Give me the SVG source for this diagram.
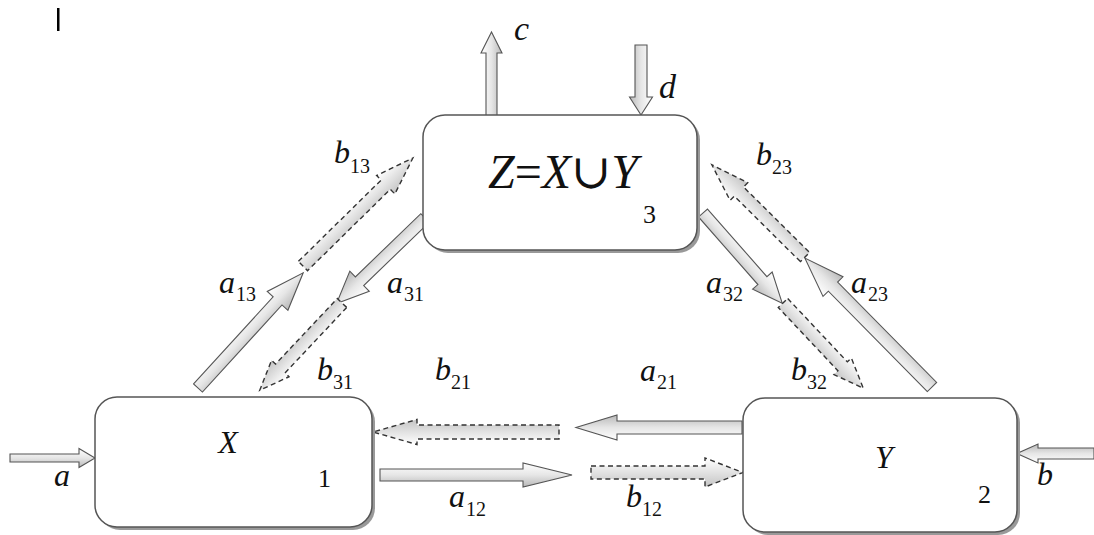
<svg xmlns="http://www.w3.org/2000/svg" width="1094" height="535" viewBox="0 0 1094 535">
<style>
.solid{fill:url(#gs);stroke:#555;stroke-width:1.1;stroke-linejoin:miter}
.dash{fill:url(#gd);stroke:#333;stroke-width:1.4;stroke-dasharray:5 3.5}
.box{fill:#fff;stroke:#555;stroke-width:1.5}
.shadow{fill:#999}
text{font-family:'Liberation Serif','Times New Roman','DejaVu Serif',serif;fill:#111}
.it{font-style:italic;font-size:32px}
.sub{font-style:normal;font-size:20px}
.num{font-size:26px}
.up{font-style:normal}
</style>
<defs>
<linearGradient id="gs" x1="0" y1="0" x2="0" y2="1">
<stop offset="0" stop-color="#ffffff"/><stop offset="0.5" stop-color="#e6e6e6"/><stop offset="1" stop-color="#b8b8b8"/>
</linearGradient>
<linearGradient id="gd" x1="0" y1="0" x2="0" y2="1">
<stop offset="0" stop-color="#ffffff"/><stop offset="0.5" stop-color="#e2e2e2"/><stop offset="1" stop-color="#c4c4c4"/>
</linearGradient>
</defs>
<rect x="57" y="8" width="2.5" height="23" fill="#000"/>
<g id="connectors">
<polygon class="solid" transform="translate(10,458)" points="0,-4 69,-4 69,-9.5 85,0 69,9.5 69,4 0,4"/>
<polygon class="solid" transform="translate(1094,453.5) rotate(180)" points="0,-5.5 56,-5.5 56,-9.5 77,0 56,9.5 56,5.5 0,5.5"/>
<polygon class="solid" transform="translate(491.5,116) rotate(-90)" points="0,-5.5 63,-5.5 63,-10.5 84,0 63,10.5 63,5.5 0,5.5"/>
<polygon class="solid" transform="translate(641,45) rotate(90)" points="0,-6 52,-6 52,-11.5 70,0 52,11.5 52,6 0,6"/>
<polygon class="solid" transform="translate(742,427.5) rotate(180)" points="0,-6.5 125,-6.5 125,-12.5 166,0 125,12.5 125,6.5 0,6.5"/>
<polygon class="solid" transform="translate(380,475)" points="0,-6 143,-6 143,-12 192,0 143,12 143,6 0,6"/>
<polygon class="dash" transform="translate(559,432) rotate(180)" points="0,-7 142,-7 142,-12.5 186,0 142,12.5 142,7 0,7"/>
<polygon class="dash" transform="translate(591,472.5)" points="0,-6.5 114,-6.5 114,-14.5 152,0 114,14.5 114,6.5 0,6.5"/>
<polygon class="solid" transform="translate(198,388) rotate(-47.6)" points="0,-6 118,-6 118,-14 156,0 118,14 118,6 0,6"/>
<polygon class="dash" transform="translate(303,266) rotate(-44.5)" points="0,-6.5 116,-6.5 116,-13 154,0 116,13 116,6.5 0,6.5"/>
<polygon class="solid" transform="translate(425,218) rotate(136)" points="0,-6 91,-6 91,-14 123,0 91,14 91,6 0,6"/>
<polygon class="dash" transform="translate(342,303) rotate(133.3)" points="0,-6.5 90,-6.5 90,-12 120,0 90,12 90,6.5 0,6.5"/>
<polygon class="solid" transform="translate(703,213) rotate(48.7)" points="0,-6 90,-6 90,-13 120,0 90,13 90,6 0,6"/>
<polygon class="dash" transform="translate(783,303) rotate(46.7)" points="0,-6.5 87,-6.5 87,-12 117,0 87,12 87,6.5 0,6.5"/>
<polygon class="solid" transform="translate(932,387) rotate(-134.6)" points="0,-6.5 141,-6.5 141,-14 181,0 141,14 141,6.5 0,6.5"/>
<polygon class="dash" transform="translate(805,257) rotate(-135.3)" points="0,-6.5 93,-6.5 93,-12.5 131,0 93,12.5 93,6.5 0,6.5"/>
</g>
<g id="node-Z">
<rect class="shadow" x="426" y="118" width="274" height="135" rx="22"/>
<rect class="box" x="423" y="115" width="274" height="135" rx="22"/>
<text class="it" x="563" y="188" text-anchor="middle" style="font-size:48px">Z<tspan class="up">=</tspan>X<tspan class="up">∪</tspan>Y</text>
<text class="num" x="643" y="223">3</text>
</g>
<g id="node-X">
<rect class="shadow" x="98" y="400" width="277" height="130" rx="22"/>
<rect class="box" x="95" y="397" width="277" height="130" rx="22"/>
<text class="it" x="228" y="453" text-anchor="middle">X</text>
<text class="num" x="318" y="487">1</text>
</g>
<g id="node-Y">
<rect class="shadow" x="746" y="401" width="274" height="134" rx="22"/>
<rect class="box" x="743" y="398" width="274" height="134" rx="22"/>
<text class="it" x="884" y="468" text-anchor="middle">Y</text>
<text class="num" x="978" y="503">2</text>
</g>
<g id="labels">
<text class="it" x="54" y="486">a</text>
<text class="it" x="1037" y="485">b</text>
<text class="it" x="514" y="40" style="font-size:34px">c</text>
<text class="it" x="659" y="98" style="font-size:34px">d</text>
<text class="it" x="334" y="163">b<tspan class="sub" x="350" y="173">13</tspan></text>
<text class="it" x="219" y="293">a<tspan class="sub" x="236" y="301">13</tspan></text>
<text class="it" x="387" y="293">a<tspan class="sub" x="404" y="301">31</tspan></text>
<text class="it" x="317" y="380">b<tspan class="sub" x="333" y="389">31</tspan></text>
<text class="it" x="435" y="380">b<tspan class="sub" x="451" y="389">21</tspan></text>
<text class="it" x="640" y="381">a<tspan class="sub" x="657" y="389">21</tspan></text>
<text class="it" x="449" y="507">a<tspan class="sub" x="466" y="516">12</tspan></text>
<text class="it" x="626" y="507">b<tspan class="sub" x="642" y="516">12</tspan></text>
<text class="it" x="756" y="165">b<tspan class="sub" x="772" y="174">23</tspan></text>
<text class="it" x="706" y="293">a<tspan class="sub" x="723" y="301">32</tspan></text>
<text class="it" x="851" y="293">a<tspan class="sub" x="868" y="301">23</tspan></text>
<text class="it" x="791" y="380">b<tspan class="sub" x="807" y="389">32</tspan></text>
</g>
</svg>
